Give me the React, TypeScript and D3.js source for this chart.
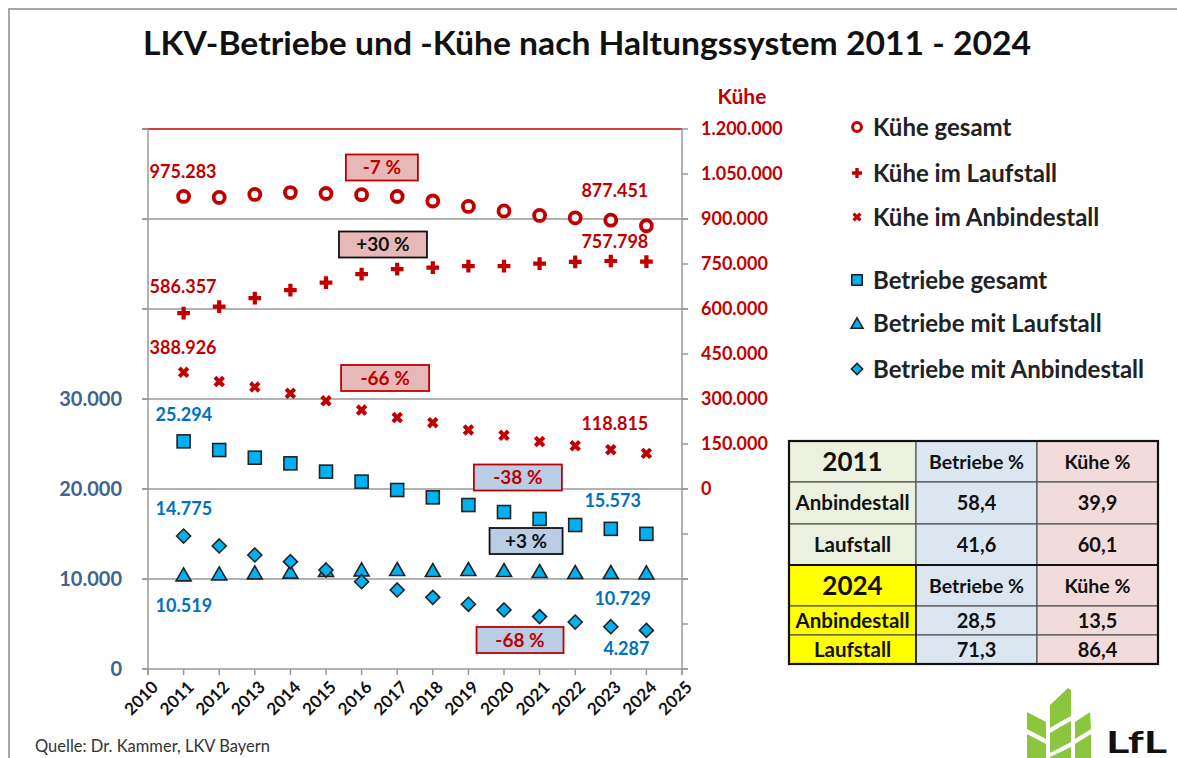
import React from "react";
import * as d3 from "d3";

const years = [2011, 2012, 2013, 2014, 2015, 2016, 2017, 2018, 2019, 2020, 2021, 2022, 2023, 2024];
const kueheGesamt = [975283, 972000, 982000, 988000, 985000, 981000, 975000, 960000, 942000, 927000, 912000, 904000, 896000, 877451];
const kueheLaufstall = [586357, 608000, 636000, 663000, 688000, 716000, 733000, 738000, 743000, 743000, 751000, 757000, 760000, 757798];
const kueheAnbindestall = [388926, 358000, 340000, 319000, 294000, 263000, 238000, 221000, 197000, 179000, 158000, 144000, 131000, 118815];
const betriebeGesamt = [25294, 24330, 23480, 22850, 21930, 20820, 19890, 19070, 18220, 17440, 16670, 16000, 15573, 15016];
const betriebeLaufstall = [10519, 10630, 10740, 10815, 11000, 11070, 11110, 11000, 11110, 11000, 10890, 10780, 10780, 10729];
const betriebeAnbindestall = [14775, 13670, 12670, 11930, 11000, 9700, 8780, 7960, 7190, 6560, 5820, 5220, 4700, 4287];

const xTickYears = [2010, 2011, 2012, 2013, 2014, 2015, 2016, 2017, 2018, 2019, 2020, 2021, 2022, 2023, 2024, 2025];
const leftTickLabels = [0, 10000, 20000, 30000];
const rightTickLabels = [0, 150000, 300000, 450000, 600000, 750000, 900000, 1050000, 1200000];

const legendItems = ["Kühe gesamt", "Kühe im Laufstall", "Kühe im Anbindestall", "Betriebe gesamt", "Betriebe mit Laufstall", "Betriebe mit Anbindestall"];

// value labels: [text, year, value, axis, color, dx, dy]
const valueLabels: [string, number, number, string, string, number, number][] = [
  ["975.283", 2011, 975283, "R", "red", -34, -25],
  ["877.451", 2024, 877451, "R", "red", -65, -35],
  ["757.798", 2024, 757798, "R", "red", -65, -20],
  ["586.357", 2011, 586357, "R", "red", -34, -27],
  ["388.926", 2011, 388926, "R", "red", -34, -25],
  ["118.815", 2024, 118815, "R", "red", -65, -30],
  ["25.294", 2011, 25294, "L", "blue", -28, -27],
  ["14.775", 2011, 14775, "L", "blue", -28, -28],
  ["10.519", 2011, 10519, "L", "blue", -28, 31],
  ["15.573", 2024, 15016, "L", "blue", -62, -33],
  ["10.729", 2024, 10729, "L", "blue", -52, 26],
  ["4.287", 2024, 4287, "L", "blue", -43, 18],
];

// change boxes: [text, centerYear, centerValue(right axis), width, fill, border, textColor]
const changeBoxes: [string, number, number, number, string, string, string][] = [
  ["-7 %", 2016.57, 1071667, 72, "#E6B9B8", "#C00000", "#C00000"],
  ["+30 %", 2016.6, 815000, 88, "#E6B9B8", "#111", "#111"],
  ["-66 %", 2016.66, 370000, 88, "#E6B9B8", "#C00000", "#C00000"],
  ["-38 %", 2020.39, 38333, 88, "#B9CDE5", "#C00000", "#C00000"],
  ["+3 %", 2020.62, -173333, 73, "#B9CDE5", "#111", "#111"],
  ["-68 %", 2020.45, -503333, 87, "#B9CDE5", "#C00000", "#C00000"],
];

const tableHeader2011 = ["2011", "Betriebe %", "Kühe %"];
const tableRows2011 = [["Anbindestall", "58,4", "39,9"], ["Laufstall", "41,6", "60,1"]];
const tableHeader2024 = ["2024", "Betriebe %", "Kühe %"];
const tableRows2024 = [["Anbindestall", "28,5", "13,5"], ["Laufstall", "71,3", "86,4"]];

const RED = "#C00000";
const BLUE = "#0070C0";
const AXBLUE = "#41648F";
const CYAN = "#00B0F0";
const GRID = "#999";
const FONT = "Lato, 'Open Sans', sans-serif";

const locale = d3.formatLocale({ decimal: ",", thousands: ".", grouping: [3], currency: ["", "€"] });
const fmt = locale.format(",d");

function marker(kind: string, cx: number, cy: number, s = 1) {
  const key = `${kind}-${cx}-${cy}`;
  if (kind === "circle") {
    return <circle key={key} cx={cx} cy={cy} r={5.5 * s} fill="white" stroke={RED} strokeWidth={3.8 * s} />;
  }
  if (kind === "plus") {
    const p = d3.symbol(d3.symbolCross, 90 * s * s)();
    return <path key={key} d={p || ""} transform={`translate(${cx},${cy})`} fill={RED} />;
  }
  if (kind === "x") {
    const p = d3.symbol(d3.symbolCross, 82 * s * s)();
    return <path key={key} d={p || ""} transform={`translate(${cx},${cy}) rotate(45)`} fill={RED} />;
  }
  if (kind === "square") {
    const h = 6.5 * s;
    return <rect key={key} x={cx - h} y={cy - h} width={2 * h} height={2 * h} fill={CYAN} stroke="#222" strokeWidth={1.6} />;
  }
  if (kind === "triangle") {
    const w = 7.5 * s, hh = 6.5 * s;
    return <path key={key} d={`M${cx},${cy - hh}L${cx + w},${cy + hh}L${cx - w},${cy + hh}Z`} fill={CYAN} stroke="#222" strokeWidth={1.6} strokeLinejoin="miter" />;
  }
  const r = 7 * s;
  return <path key={key} d={`M${cx},${cy - r}L${cx + r},${cy}L${cx},${cy + r}L${cx - r},${cy}Z`} fill={CYAN} stroke="#222" strokeWidth={1.6} />;
}

export default function App() {
  const x = d3.scaleLinear().domain([2010, 2025]).range([148, 682]);
  const yL = d3.scaleLinear().domain([0, 60000]).range([669, 129]);
  const yR = d3.scaleLinear().domain([-600000, 1200000]).range([669, 129]);

  const gridVals = d3.range(10000, 60000, 10000);
  const leftTicks = d3.range(0, 60001, 10000);
  const rightTicks = d3.range(-600000, 1200001, 150000);

  const series: [string, number[], string][] = [
    ["circle", kueheGesamt, "R"],
    ["plus", kueheLaufstall, "R"],
    ["x", kueheAnbindestall, "R"],
    ["square", betriebeGesamt, "L"],
    ["triangle", betriebeLaufstall, "L"],
    ["diamond", betriebeAnbindestall, "L"],
  ];
  const legendKinds = ["circle", "plus", "x", "square", "triangle", "diamond"];
  const legendY = [127, 173, 217, 280, 323, 369];

  // table geometry
  const colX = [789, 916, 1037, 1158];
  const rowY = [441, 482, 524, 565, 606, 635, 664];
  const tableData = [tableHeader2011, ...tableRows2011, tableHeader2024, ...tableRows2024];
  const col1Fill = (r: number) => (r < 3 ? "#EBF1DE" : "#FFFF00");
  const colFills = ["", "#DCE6F1", "#F2DCDB"];

  return (
    <svg width={1177} height={758} style={{ position: "absolute", left: 0, top: 0, background: "white" }} fontFamily={FONT}>
      <rect x={0} y={0} width={1177} height={758} fill="white" />
      <rect x={9} y={9} width={1300} height={900} fill="none" stroke="#8a8a8a" strokeWidth={1.5} />

      <text x={587} y={55} textAnchor="middle" fontSize={32} fontWeight="bold" fill="#111" textLength={888} lengthAdjust="spacingAndGlyphs">
        LKV-Betriebe und -Kühe nach Haltungssystem 2011 - 2024
      </text>

      {/* grid */}
      {gridVals.map((v) => (
        <line key={v} x1={142} x2={688} y1={yL(v)} y2={yL(v)} stroke={GRID} strokeWidth={1.5} />
      ))}
      <line x1={142} x2={682} y1={yL(60000)} y2={yL(60000)} stroke={RED} strokeWidth={1.5} />
      {/* axes */}
      <line x1={148} x2={148} y1={129} y2={675} stroke={GRID} strokeWidth={1.5} />
      <line x1={682} x2={682} y1={129} y2={675} stroke={GRID} strokeWidth={1.5} />
      <line x1={142} x2={688} y1={669} y2={669} stroke={GRID} strokeWidth={1.5} />
      {leftTicks.map((v) => (
        <line key={"lt" + v} x1={142} x2={148} y1={yL(v)} y2={yL(v)} stroke={GRID} strokeWidth={1.5} />
      ))}
      {rightTicks.map((v) => (
        <line key={"rt" + v} x1={682} x2={688} y1={yR(v)} y2={yR(v)} stroke={GRID} strokeWidth={1.5} />
      ))}
      {xTickYears.map((yr) => (
        <line key={"xt" + yr} x1={x(yr)} x2={x(yr)} y1={669} y2={675} stroke={GRID} strokeWidth={1.5} />
      ))}

      {/* axis labels */}
      {leftTickLabels.map((v) => (
        <text key={"ll" + v} x={122} y={yL(v)} dy="0.36em" textAnchor="end" fontSize={20} fontWeight="bold" fill={AXBLUE}>
          {fmt(v)}
        </text>
      ))}
      {rightTickLabels.map((v) => (
        <text key={"rl" + v} x={701} y={yR(v)} dy="0.36em" fontSize={18} fontWeight="bold" fill={RED}>
          {fmt(v)}
        </text>
      ))}
      <text x={742} y={96} dy="0.36em" textAnchor="middle" fontSize={21} fontWeight="bold" fill={RED}>Kühe</text>
      {xTickYears.map((yr) => (
        <text key={"xl" + yr} transform={`translate(${x(yr) + 7},${684}) rotate(-45)`} textAnchor="end" dy="0.36em" fontSize={17} fontWeight="bold" fill="#111">
          {yr}
        </text>
      ))}

      {/* change boxes */}
      {changeBoxes.map(([t, cy, cv, w, fill, border, tc]) => {
        const cx = x(cy), cyy = yR(cv);
        return (
          <g key={t}>
            <rect x={cx - w / 2} y={cyy - 13} width={w} height={26} fill={fill} stroke={border} strokeWidth={1.8} />
            <text x={cx} y={cyy} dy="0.36em" textAnchor="middle" fontSize={19} fontWeight="bold" fill={tc}>{t}</text>
          </g>
        );
      })}

      {/* markers */}
      {series.map(([kind, vals, ax]) => (
        <g key={kind}>
          {vals.map((v, i) => marker(kind, x(years[i]), ax === "R" ? yR(v) : yL(v)))}
        </g>
      ))}

      {/* value labels */}
      {valueLabels.map(([t, yr, v, ax, c, dx, dy]) => (
        <text key={t} x={x(yr) + dx} y={(ax === "R" ? yR(v) : yL(v)) + dy} dy="0.36em" fontSize={18} fontWeight="bold" fill={c === "red" ? RED : BLUE}>
          {t}
        </text>
      ))}

      {/* legend */}
      {legendItems.map((t, i) => (
        <g key={t}>
          {marker(legendKinds[i], 857, legendY[i], 0.8)}
          <text x={873} y={legendY[i]} dy="0.36em" fontSize={24} fontWeight="bold" fill="#222">{t}</text>
        </g>
      ))}

      {/* table */}
      {tableData.map((row, r) => (
        <g key={"tr" + r}>
          {row.map((cell, c) => {
            const fill = c === 0 ? col1Fill(r) : colFills[c];
            const isYear = c === 0 && (r === 0 || r === 3);
            const isHead = r === 0 || r === 3;
            return (
              <g key={c}>
                <rect x={colX[c]} y={rowY[r]} width={colX[c + 1] - colX[c]} height={rowY[r + 1] - rowY[r]} fill={fill} stroke="#555" strokeWidth={1.2} />
                <text x={(colX[c] + colX[c + 1]) / 2} y={(rowY[r] + rowY[r + 1]) / 2} dy="0.36em" textAnchor="middle" fontSize={isYear ? 26 : c === 0 ? 20.5 : isHead ? 19.5 : 20} fontWeight="bold" fill="#111">
                  {cell}
                </text>
              </g>
            );
          })}
        </g>
      ))}
      <rect x={colX[0]} y={rowY[3]} width={colX[1] - colX[0]} height={rowY[6] - rowY[3]} fill="none" stroke="#111" strokeWidth={1.5} />
      <line x1={colX[0]} x2={colX[3]} y1={rowY[3]} y2={rowY[3]} stroke="#111" strokeWidth={2.2} />
      <rect x={colX[0]} y={rowY[0]} width={colX[3] - colX[0]} height={rowY[6] - rowY[0]} fill="none" stroke="#111" strokeWidth={2.2} />

      {/* source */}
      <text x={35} y={752} fontSize={16.5} fill="#333">Quelle: Dr. Kammer, LKV Bayern</text>

      {/* logo */}
      <g fill="#8CC63E">
        <path d="M1027,712 L1046,722 L1046,739 L1027,729 Z" />
        <path d="M1027,734 L1046,744 L1046,758 L1027,758 Z" />
        <path d="M1050,705 L1068,688 L1071,690 L1071,716 L1060,722 L1050,728 Z" />
        <path d="M1050,733 L1060,727 L1071,721 L1071,742 L1050,753 Z" />
        <path d="M1050,757 L1071,747 L1071,758 L1050,758 Z" />
        <path d="M1075,722 L1090,712 L1091,729 L1075,739 Z" />
        <path d="M1075,744 L1091,734 L1091,758 L1075,758 Z" />
      </g>
      <text x={1106} y={753} fontSize={30} fontWeight="bold" fill="#111" textLength={61} lengthAdjust="spacingAndGlyphs">LfL</text>
    </svg>
  );
}
